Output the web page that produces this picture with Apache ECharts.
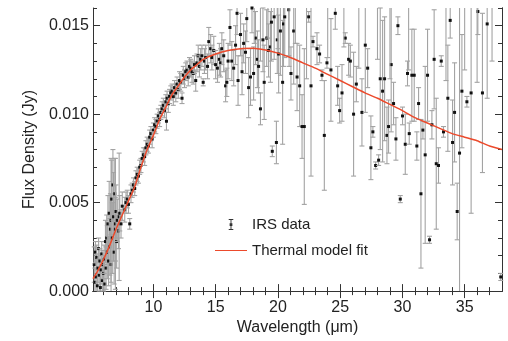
<!DOCTYPE html>
<html>
<head>
<meta charset="utf-8">
<script src="https://cdn.jsdelivr.net/npm/echarts@6/dist/echarts.min.js"></script>
<style>
  html, body { margin: 0; padding: 0; background: #fff; }
  #container { width: 508px; height: 341px; }
</style>
</head>
<body>
<div id="container"></div>
<script>
var dom = document.getElementById('container');
var myChart = echarts.init(dom, null, { renderer: 'canvas' });

// IRS data: wavelength (um), flux density (Jy), 1-sigma error
const wavelength = [
  5.25, 5.30, 5.35, 5.40, 5.45, 5.50, 5.55, 5.60, 5.65, 5.70, 5.75, 5.80, 5.85, 5.90, 5.95,
  6.00, 6.05, 6.10, 6.15, 6.20, 6.25, 6.30, 6.35, 6.40, 6.45, 6.50, 6.55, 6.60, 6.60, 6.65,
  6.70, 6.75, 6.80, 6.85, 6.90, 6.95, 6.95, 7.00, 7.05, 7.10, 7.20, 7.25, 7.30, 7.40, 7.50,
  7.70, 7.80,
  7.90, 8.00, 8.10, 8.20, 8.30, 8.40, 8.50, 8.60, 8.70, 8.80, 8.90, 9.00, 9.10, 9.20, 9.30,
  9.40, 9.50, 9.60, 9.70, 9.80, 9.90, 10.0, 10.1, 10.2, 10.3, 10.4, 10.5, 10.6, 10.7, 10.8,
  10.9, 11.0, 11.05, 11.1, 11.2, 11.3, 11.4,
  11.5, 11.6, 11.7, 11.8, 11.9, 12.0, 12.1, 12.2, 12.3, 12.4, 12.5, 12.6, 12.7, 12.8, 12.9,
  13.0, 13.1, 13.2, 13.3, 13.4, 13.5, 13.6, 13.7, 13.8, 13.9, 14.0, 14.1, 14.2, 14.35, 14.45,
  14.6, 14.7, 14.85, 15.0, 15.15, 15.3, 15.4, 15.5, 15.65, 15.8, 15.9, 16.0, 16.15, 16.3, 16.45,
  16.6, 16.72, 16.8, 17.0, 17.12, 17.25, 17.4, 17.5, 17.65, 17.8, 17.92, 18.05, 18.2, 18.35, 18.45,
  18.6, 18.8, 18.9, 19.1, 19.25, 19.4, 19.48, 19.55, 19.7, 19.88, 19.95, 20.06, 20.2, 20.38, 20.45,
  20.55, 20.87, 21.05, 21.27, 21.54, 21.75, 21.94, 22.12, 22.47, 22.66, 22.82, 23.14, 23.35, 23.54, 23.73,
  23.94, 24.26, 24.61, 24.80, 24.96, 25.15, 25.41, 25.68, 25.82, 26.08, 26.30, 26.75, 27.02, 27.21, 27.47,
  27.63, 27.85, 28.09,
  28.22, 28.41, 28.57, 28.76, 28.89, 29.10, 29.29, 29.48, 29.64, 29.83, 30.01, 30.23, 30.41, 30.55, 30.76,
  30.95, 31.16, 31.30, 31.49, 31.65, 31.83, 32.02, 32.18, 32.37, 32.55, 32.72, 32.90, 33.12, 33.30, 33.65,
  33.84, 34.03, 34.19, 34.40, 34.59, 34.78, 35.18, 35.52, 36.06, 36.43, 36.81, 37.90,
  18.1, 18.6, 19.2, 20.0, 20.9, 21.4, 22.3, 24.0, 25.3, 26.5, 28.0, 29.0, 30.5, 33.5, 35.0,
  36.0, 37.2
];
const flux = [
  0.0015, 0.0005, 0.0022, 0.0008, 0.0019, 0.0003, 0.0013, 0.0024, 0.0009, 0.0017, 0.0002, 0.0012, 0.0021, 0.0006, 0.0015,
  0.0010, 0.0018, 0.0004, 0.0028, 0.0013, 0.0030, 0.0022, 0.0038, 0.0017, 0.0044, 0.0025, 0.0035, 0.0015, 0.0040, 0.0052,
  0.0030, 0.0060, 0.0042, 0.0022, 0.0055, 0.0035, 0.0038, 0.0045, 0.0028, 0.0040, 0.0034, 0.0042, 0.0044, 0.0038, 0.0048,
  0.0046, 0.0050,
  0.0052, 0.0049, 0.0038, 0.0055, 0.0057, 0.0060, 0.0058, 0.0064, 0.0066, 0.0065, 0.0070, 0.0071, 0.0075, 0.0077, 0.0076,
  0.0081, 0.0083, 0.0082, 0.0087, 0.0089, 0.0086, 0.0091, 0.0094, 0.0093, 0.0096, 0.0099, 0.0097, 0.0101, 0.0103, 0.0105,
  0.0102, 0.0107, 0.0096, 0.0109, 0.0106, 0.0110, 0.0112,
  0.0113, 0.0110, 0.0115, 0.0112, 0.0117, 0.0114, 0.0119, 0.0118, 0.0109, 0.0122, 0.0120, 0.0124, 0.0125, 0.0121, 0.0127,
  0.0126, 0.0124, 0.0123, 0.0128, 0.0119, 0.0129, 0.0133, 0.0127, 0.0131, 0.0133, 0.0118, 0.0130, 0.0132, 0.0127, 0.0141,
  0.0137, 0.0132, 0.0136, 0.0128, 0.0126, 0.0131, 0.0129, 0.0137, 0.0133, 0.0116, 0.0118, 0.0130, 0.0149, 0.0130, 0.0126,
  0.0139, 0.0157, 0.0119, 0.0145, 0.0124, 0.0140, 0.0135, 0.0154, 0.0115, 0.0121, 0.0160, 0.0123, 0.0143, 0.0131, 0.0127,
  0.0103, 0.0142, 0.0118, 0.0143, 0.0136, 0.0138, 0.0152, 0.0079, 0.0155, 0.0084, 0.0142, 0.0134, 0.0147, 0.0118, 0.0151,
  0.0155, 0.0159, 0.0123, 0.0147, 0.0121, 0.0116, 0.0093, 0.0093, 0.0155, 0.0116, 0.0141, 0.0137, 0.0134, 0.0122, 0.0088,
  0.0129, 0.0125, 0.0157, 0.0116, 0.0102, 0.0112, 0.0143, 0.0131, 0.0130, 0.0100, 0.0117, 0.0101, 0.0139, 0.0126, 0.0081,
  0.0090, 0.0071, 0.0074,
  0.0120, 0.0113, 0.0120, 0.0088, 0.0093, 0.0128, 0.0106, 0.0086, 0.0150, 0.0052, 0.0099, 0.0083, 0.0123, 0.0089, 0.0122,
  0.0122, 0.0082, 0.0106, 0.0055, 0.0091, 0.0077, 0.0122, 0.0029, 0.0094, 0.0131, 0.0072, 0.0071, 0.0130, 0.0090, 0.0109,
  0.0153, 0.0084, 0.0101, 0.0045, 0.0078, 0.0113, 0.0107, 0.0112, 0.0158, 0.0112, 0.0151, 0.0008,
  0.0170, 0.0175, 0.0168, 0.0172, 0.0175, 0.0170, 0.0180, 0.0172, 0.0168, 0.0178, 0.0176, 0.0180, 0.0175, 0.0174, 0.0175,
  0.0178, 0.0170
];
const fluxErr = [
  0.0010, 0.0008, 0.0006, 0.0009, 0.0007, 0.0010, 0.0008, 0.0006, 0.0009, 0.0007, 0.0010, 0.0008, 0.0007, 0.0009, 0.0008,
  0.0010, 0.0008, 0.0011, 0.0012, 0.0012, 0.0013, 0.0015, 0.0016, 0.0014, 0.0018, 0.0016, 0.0020, 0.0017, 0.0035, 0.0022,
  0.0020, 0.0020, 0.0025, 0.0018, 0.0020, 0.0018, 0.0037, 0.0015, 0.0015, 0.0012, 0.0010, 0.0036, 0.0010, 0.0008, 0.0008,
  0.0007, 0.0006,
  0.0005, 0.0005, 0.0003, 0.0005, 0.0004, 0.0004, 0.0004, 0.0004, 0.0004, 0.0004, 0.0004, 0.0004, 0.0004, 0.0004, 0.0005,
  0.0004, 0.0004, 0.0004, 0.0004, 0.0004, 0.0005, 0.0004, 0.0004, 0.0004, 0.0004, 0.0004, 0.0004, 0.0004, 0.0004, 0.0004,
  0.0004, 0.0004, 0.0005, 0.0004, 0.0005, 0.0004, 0.0004,
  0.0004, 0.0005, 0.0004, 0.0005, 0.0004, 0.0005, 0.0005, 0.0005, 0.0003, 0.0005, 0.0005, 0.0005, 0.0005, 0.0005, 0.0005,
  0.0005, 0.0006, 0.0006, 0.0005, 0.0006, 0.0005, 0.0006, 0.0006, 0.0006, 0.0006, 0.0002, 0.0007, 0.0007, 0.0007, 0.0008,
  0.0008, 0.0007, 0.0008, 0.0008, 0.0008, 0.0009, 0.0008, 0.0009, 0.0009, 0.0009, 0.0008, 0.0010, 0.0010, 0.0011, 0.0010,
  0.0011, 0.0012, 0.0014, 0.0012, 0.0013, 0.0011, 0.0012, 0.0013, 0.0017, 0.0016, 0.0014, 0.0015, 0.0015, 0.0016, 0.0015,
  0.0009, 0.0018, 0.0021, 0.0016, 0.0015, 0.0020, 0.0022, 0.0003, 0.0024, 0.0012, 0.0019, 0.0022, 0.0025, 0.0035, 0.0024,
  0.0023, 0.0026, 0.0015, 0.0030, 0.0019, 0.0023, 0.0018, 0.0044, 0.0003, 0.0051, 0.0003, 0.0009, 0.0005, 0.0003, 0.0031,
  0.0003, 0.0029, 0.0009, 0.0011, 0.0007, 0.0016, 0.0003, 0.0009, 0.0009, 0.0035, 0.0010, 0.0019, 0.0038, 0.0011, 0.0018,
  0.0003, 0.0002, 0.0003,
  0.0040, 0.0040, 0.0035, 0.0016, 0.0015, 0.0038, 0.0012, 0.0012, 0.0005, 0.0002, 0.0005, 0.0017, 0.0007, 0.0006, 0.0026,
  0.0026, 0.0008, 0.0009, 0.0042, 0.0005, 0.0050, 0.0026, 0.0002, 0.0008, 0.0028, 0.0037, 0.0010, 0.0003, 0.0003, 0.0030,
  0.0010, 0.0024, 0.0028, 0.0016, 0.0083, 0.0032, 0.0003, 0.0068, 0.0013, 0.0045, 0.0042, 0.0002,
  0.0030, 0.0045, 0.0025, 0.0035, 0.0048, 0.0030, 0.0060, 0.0040, 0.0030, 0.0052, 0.0045, 0.0060, 0.0050, 0.0055, 0.0050,
  0.0060, 0.0040
];

// thermal model fit
const modelX = [5.15, 5.5, 6, 6.5, 7, 7.5, 8, 8.5, 9, 9.5, 10, 10.5, 11, 11.5, 12, 12.5, 13, 13.5, 14,
  15, 16, 17, 18, 19, 20, 21, 22, 23, 24, 25, 26, 27, 28, 29, 30, 31, 32, 33, 34, 35, 36, 37, 38];
const modelY = [0.0007, 0.0011, 0.0018, 0.0026, 0.0035, 0.0043, 0.0051, 0.0059, 0.0070, 0.0080, 0.0088, 0.0097,
  0.0104, 0.0111, 0.0116, 0.0121, 0.0125, 0.0128, 0.0131, 0.0134, 0.0136, 0.0137, 0.01372, 0.01362, 0.01345,
  0.0132, 0.0129, 0.0126, 0.01225, 0.0119, 0.01155, 0.0112, 0.0109, 0.01055, 0.0102, 0.0098, 0.0095, 0.0092,
  0.0089, 0.0087, 0.0085, 0.0082, 0.0080];

const xMajor = [10, 15, 20, 25, 30, 35];
const xMinor = [6, 7, 8, 9, 11, 12, 13, 14, 16, 17, 18, 19, 21, 22, 23, 24, 26, 27, 28, 29, 31, 32, 33, 34, 36, 37];
const yMajor = [0, 0.005, 0.010, 0.015];
const yMinor = [0.001, 0.002, 0.003, 0.004, 0.006, 0.007, 0.008, 0.009, 0.011, 0.012, 0.013, 0.014, 0.016];

const irsData = wavelength.map((w, i) => [w, flux[i], fluxErr[i]]);
const modelData = modelX.map((w, i) => [w, modelY[i]]);

const FONT = "'Liberation Sans', Arial, Helvetica, sans-serif";
const INK = '#222';
const FRAME = '#333';

function renderErr(params, api) {
  const x = api.value(0), y = api.value(1), e = api.value(2);
  const cs = params.coordSys;
  const p = api.coord([x, y]);
  const top = api.coord([x, y + e])[1];
  const bot = api.coord([x, y - e])[1];
  const y0 = cs.y, y1 = cs.y + cs.height;
  const t = Math.max(top, y0), b = Math.min(bot, y1);
  const st = { stroke: '#a3a3a3', lineWidth: 1.1 };
  const kids = [];
  if (t < b) kids.push({ type: 'line', shape: { x1: p[0], y1: t, x2: p[0], y2: b }, style: st });
  if (top >= y0) kids.push({ type: 'line', shape: { x1: p[0] - 2.5, y1: top, x2: p[0] + 2.5, y2: top }, style: st });
  if (bot <= y1) kids.push({ type: 'line', shape: { x1: p[0] - 2.5, y1: bot, x2: p[0] + 2.5, y2: bot }, style: st });
  if (p[1] >= y0 && p[1] <= y1) {
    kids.push({ type: 'rect', shape: { x: p[0] - 1.5, y: p[1] - 1.5, width: 3, height: 3 }, style: { fill: '#111' } });
  }
  return { type: 'group', children: kids };
}

function xAx(pos, vals, len, labels) {
  return {
    type: 'value', position: pos, min: 5.15, max: 38,
    axisLine: { show: !!labels || pos === 'top', lineStyle: { color: FRAME, width: 1 } },
    axisTick: { show: true, inside: true, length: len, customValues: vals, lineStyle: { color: FRAME } },
    axisLabel: labels ? { show: true, customValues: vals, margin: 8, color: INK, fontSize: 16, fontFamily: FONT }
                      : { show: false },
    splitLine: { show: false }
  };
}
function yAx(pos, vals, len, labels) {
  return {
    type: 'value', position: pos, min: 0, max: 0.016,
    axisLine: { show: !!labels || pos === 'right', lineStyle: { color: FRAME, width: 1 } },
    axisTick: { show: true, inside: true, length: len, customValues: vals, lineStyle: { color: FRAME } },
    axisLabel: labels ? { show: true, customValues: vals, margin: 4, color: INK, fontSize: 16, fontFamily: FONT,
                          formatter: v => v.toFixed(3) }
                      : { show: false },
    splitLine: { show: false }
  };
}

var option = {
  animation: false,
  backgroundColor: '#fff',
  grid: { left: 93, right: 6, top: 8, bottom: 43 },
  xAxis: [
    Object.assign(xAx('bottom', xMajor, 7, true), {
      name: 'Wavelength (\u03bcm)', nameLocation: 'middle', nameGap: 28,
      nameTextStyle: { color: INK, fontSize: 16, fontFamily: FONT }
    }),
    xAx('bottom', xMinor, 4, false),
    xAx('top', xMajor, 7, false),
    xAx('top', xMinor, 4, false)
  ],
  yAxis: [
    Object.assign(yAx('left', yMajor, 7, true), {
      name: 'Flux Density (Jy)', nameLocation: 'middle', nameGap: 53,
      nameTextStyle: { color: INK, fontSize: 16, fontFamily: FONT }
    }),
    yAx('left', yMinor, 4, false),
    yAx('right', yMajor, 7, false),
    yAx('right', yMinor, 4, false)
  ],
  legend: {
    orient: 'vertical', left: 215, top: 217, padding: 0,
    itemWidth: 32, itemHeight: 11, itemGap: 11,
    textStyle: { color: INK, fontSize: 15, fontFamily: FONT },
    data: [
      { name: 'IRS data', icon: 'path://M0,0h5v1h-5zM2,1h1v10h-1zM0,11h5v1h-5zM1,4.5h3v3h-3z' },
      { name: 'Thermal model fit', icon: 'path://M0,0h32v1h-32z' }
    ]
  },
  series: [
    {
      name: 'IRS data', type: 'custom', renderItem: renderErr,
      itemStyle: { color: '#333' },
      encode: { x: 0, y: 1 },
      data: irsData, z: 2
    },
    {
      name: 'Thermal model fit', type: 'line', data: modelData,
      showSymbol: false, smooth: 0.2,
      itemStyle: { color: '#ec4a2c' },
      lineStyle: { color: '#ec4a2c', width: 1.5 },
      z: 3
    }
  ]
};

if (option && typeof option === 'object') {
  myChart.setOption(option);
}

window.addEventListener('resize', myChart.resize);
</script>
</body>
</html>
